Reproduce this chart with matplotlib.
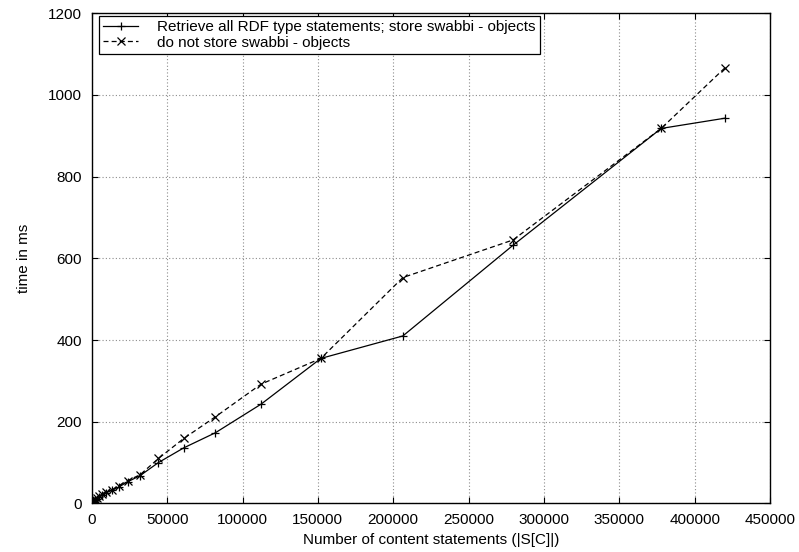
import matplotlib
matplotlib.use("Agg")
import matplotlib.pyplot as plt

plt.rcParams["font.family"] = ["Liberation Sans", "DejaVu Sans"]

# content statements |S[C]| per run
n_statements = [420000, 377800, 279500, 206400, 152000, 112300, 82000, 61000,
                44200, 32000, 23800, 17800, 13200, 9600, 7000, 5000, 3600,
                2400, 1500, 900, 500, 250]
# time in ms, retrieving all RDF type statements and storing swabbi objects
t_store = [943, 918, 632, 410, 355, 243, 173, 136, 100, 68, 53, 40, 32, 26,
           20, 16, 12, 9, 7, 5, 4, 3]
# time in ms without storing swabbi objects
t_nostore = [1066, 918, 645, 553, 355, 292, 212, 159, 110, 70, 56, 43, 33, 27,
             22, 17, 13, 10, 8, 6, 4, 3]

fig = plt.figure(figsize=(7.99, 5.52), dpi=100)
ax = fig.add_axes([0.1149, 0.088, 0.8488, 0.888])

ax.plot(n_statements, t_store, color="black", lw=0.9, marker="+",
        markersize=6, markeredgewidth=0.9,
        label="Retrieve all RDF type statements; store swabbi - objects")
ax.plot(n_statements, t_nostore, color="black", lw=0.9, ls=(0, (4, 2.5)),
        marker="x", markersize=6, markeredgewidth=0.9,
        label="do not store swabbi - objects")

ax.set_xlim(0, 450000)
ax.set_ylim(0, 1200)
ax.set_xticks(range(0, 450001, 50000))
ax.set_yticks(range(0, 1201, 200))

ax.grid(True, color="#8c8c8c", ls=(0, (1, 2)), lw=0.8)
ax.tick_params(direction="in", length=4, width=0.8, top=True, right=True,
               labelsize=11, pad=7)
for s in ax.spines.values():
    s.set_linewidth(1.0)

ax.set_xlabel("Number of content statements (|S[C]|)", fontsize=11, labelpad=4)
ax.set_ylabel("time in ms", fontsize=11, labelpad=12)

leg = ax.legend(loc="upper left", bbox_to_anchor=(0.01, 0.995),
                fontsize=11, handlelength=2.3, handletextpad=1.2,
                fancybox=False, framealpha=1, edgecolor="black",
                borderpad=0.3, labelspacing=0.1, borderaxespad=0)
leg.get_frame().set_linewidth(0.9)

plt.savefig("out.png", dpi=100)
